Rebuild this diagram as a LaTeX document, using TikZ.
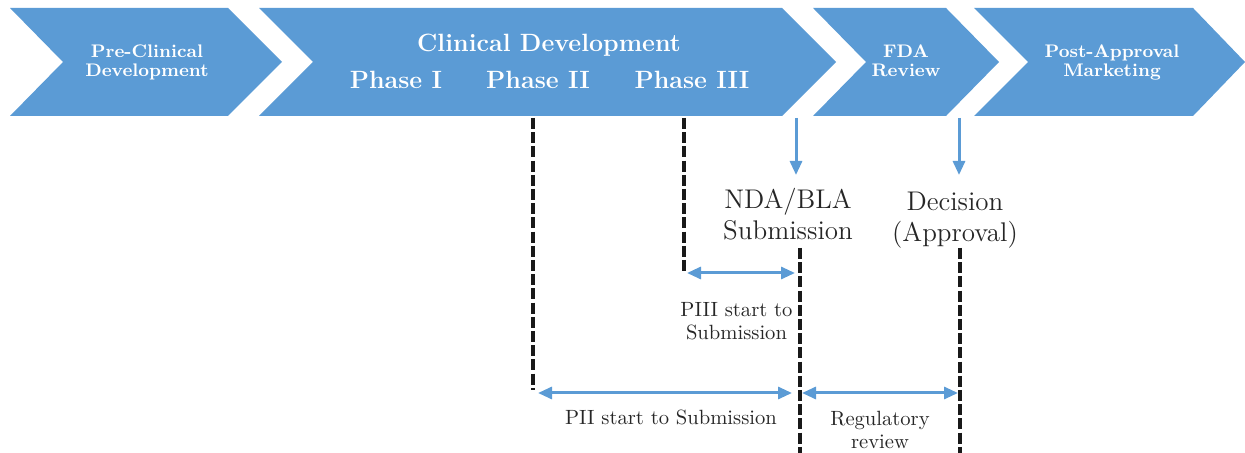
\documentclass[tikz,border=0pt]{standalone}
\usetikzlibrary{arrows.meta}
\definecolor{chev}{RGB}{91,155,213}
\begin{document}
\begin{tikzpicture}[x=0.5pt,y=-0.5pt,
  chevron/.style={fill=chev,draw=none},
  chevtext/.style={text=white,font=\fontsize{9.1}{10}\selectfont\bfseries,inner sep=0,anchor=base},
  bigtext/.style={text=white,font=\fontsize{12.5}{14}\selectfont\bfseries,inner sep=0,anchor=base},
  midtext/.style={font=\fontsize{13.5}{15.5}\selectfont,inner sep=0,anchor=base,text=black!85},
  smalltext/.style={font=\fontsize{10.3}{11.5}\selectfont,inner sep=0,anchor=base,text=black!85},
  marker/.style={draw=black!90,line width=1.6pt,dash pattern=on 5.5pt off 1.6pt},
  span/.style={draw=chev,line width=1.5pt,{Triangle[length=7pt,width=6pt]}-{Triangle[length=7pt,width=6pt]}},
  downarrow/.style={draw=chev,line width=1.5pt,-{Triangle[length=7pt,width=6pt]}}
]
\useasboundingbox (0,0) rectangle (1245,453);
% chevrons
\path[chevron] (10,8) -- (228,8) -- (282,62) -- (228,116) -- (10,116) -- (63,62) -- cycle;
\path[chevron] (259,8) -- (782,8) -- (836,62) -- (782,116) -- (259,116) -- (313,62) -- cycle;
\path[chevron] (813,8) -- (946,8) -- (999,62) -- (946,116) -- (813,116) -- (866,62) -- cycle;
\path[chevron] (974,8) -- (1193,8) -- (1245,62) -- (1193,116) -- (974,116) -- (1028,62) -- cycle;
% chevron texts
\node[chevtext] (pre1) at (147,58) {Pre-Clinical};
\node[chevtext] (pre2) at (147,77) {Development};
\node[bigtext] (clin) at (549,52) {Clinical Development};
\node[bigtext] (ph1) at (396,89) {Phase I};
\node[bigtext] (ph2) at (538,89) {Phase II};
\node[bigtext] (ph3) at (692,89) {Phase III};
\node[chevtext] (fda1) at (906,58) {FDA};
\node[chevtext] (fda2) at (906,77) {Review};
\node[chevtext] (post1) at (1112,58) {Post-Approval};
\node[chevtext] (post2) at (1112,77) {Marketing};
% milestone labels
\node[midtext] (nda1) at (788,209) {NDA/BLA};
\node[midtext] (nda2) at (788,240) {Submission};
\node[midtext] (dec1) at (955,211) {Decision};
\node[midtext] (dec2) at (955,242) {(Approval)};
\node[smalltext] (p3a) at (736.5,317) {PIII start to};
\node[smalltext] (p3b) at (736.5,340) {Submission};
\node[smalltext] (p2) at (671,424) {PII start to Submission};
\node[smalltext] (reg1) at (880,425) {Regulatory};
\node[smalltext] (reg2) at (880,448) {review};
% coordinates
\coordinate (d1t) at (533,118); \coordinate (d1b) at (533,390);
\coordinate (d2t) at (684,118); \coordinate (d2b) at (684,272);
\coordinate (d3t) at (800,248); \coordinate (d3b) at (800,453);
\coordinate (d4t) at (960,248); \coordinate (d4b) at (960,453);
\coordinate (a1s) at (796,118); \coordinate (a1e) at (796,175);
\coordinate (a2s) at (959,118); \coordinate (a2e) at (959,175);
\coordinate (s1l) at (687,273); \coordinate (s1r) at (795,273);
\coordinate (s2l) at (538,393); \coordinate (s2r) at (792,393);
\coordinate (s3l) at (802,393); \coordinate (s3r) at (958,393);
% dashed markers
\draw[marker] (d1t) -- (d1b);
\draw[marker] (d2t) -- (d2b);
\draw[marker] (d3t) -- (d3b);
\draw[marker] (d4t) -- (d4b);
% arrows
\draw[downarrow] (a1s) -- (a1e);
\draw[downarrow] (a2s) -- (a2e);
\draw[span] (s1l) -- (s1r);
\draw[span] (s2l) -- (s2r);
\draw[span] (s3l) -- (s3r);
\end{tikzpicture}
\end{document}
